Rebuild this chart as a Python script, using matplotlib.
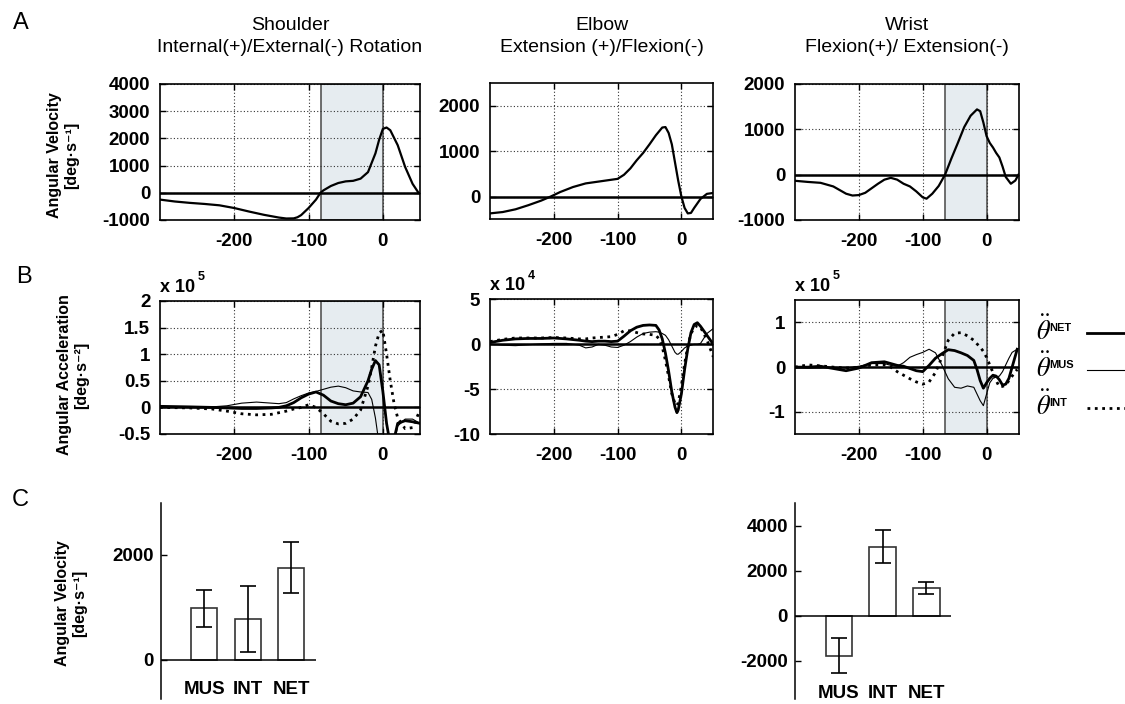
import numpy as np
import matplotlib.pyplot as plt
from matplotlib.lines import Line2D

plt.rcParams['font.family'] = ['Liberation Sans', 'DejaVu Sans']
plt.rcParams['axes.unicode_minus'] = False

W, H = 1125, 704

# ---- A: angular velocity (deg/s) ----
sh_vel_t = [-300, -280, -260, -240, -220, -200, -180, -160, -140, -130, -120, -115, -110, -100, -90,
            -84, -80, -70, -60, -50, -40, -30, -20, -10, -5, 0, 5, 10, 20, 30, 40, 48]
sh_vel = [-250, -320, -370, -410, -460, -560, -690, -810, -910, -945, -940, -900, -820, -560, -250,
          0, 90, 250, 360, 420, 440, 520, 760, 1450, 1950, 2350, 2400, 2300, 1750, 950, 330, 0]

el_vel_t = [-300, -280, -260, -240, -220, -205, -190, -170, -150, -130, -110, -100, -90, -80, -70, -60,
            -50, -40, -30, -25, -20, -15, -10, -5, 0, 5, 10, 15, 20, 30, 40, 50]
el_vel = [-370, -340, -280, -190, -90, 0, 100, 210, 290, 330, 370, 390, 480, 620, 800, 960,
          1150, 1350, 1520, 1530, 1400, 1150, 750, 350, 0, -250, -370, -360, -250, -50, 60, 80]

wr_vel_t = [-300, -280, -260, -240, -220, -210, -200, -190, -180, -170, -160, -150, -140, -130, -120,
            -110, -100, -94, -85, -75, -65, -55, -45, -35, -25, -15, -10, -5, 0, 5, 10, 15, 20, 25, 30,
            38, 45, 50]
wr_vel = [-135, -160, -180, -260, -420, -460, -450, -400, -300, -200, -110, -70, -110, -200, -260,
          -370, -500, -530, -420, -250, 0, 360, 700, 1050, 1300, 1440, 1400, 1150, 850, 700, 600, 480,
          380, 180, -50, -200, -130, 0]

# ---- B: angular acceleration (in units of the axis multiplier) ----
sh_acc_t = [-300, -260, -230, -210, -190, -170, -150, -140, -130, -120, -110, -100, -90, -80, -70,
            -60, -50, -40, -30, -20, -15, -10, -5, 0, 5, 10, 15, 20, 30, 40, 50]
sh_net = [0.02, 0.01, 0.0, -0.01, -0.02, -0.02, -0.01, 0.0, 0.03, 0.09, 0.18, 0.25, 0.29, 0.23, 0.12,
          0.07, 0.05, 0.08, 0.2, 0.5, 0.72, 0.88, 0.8, 0.3, -0.3, -0.7, -0.6, -0.3, -0.25, -0.27, -0.3]
sh_mus = [0.0, 0.0, 0.01, 0.03, 0.08, 0.1, 0.08, 0.07, 0.09, 0.16, 0.22, 0.27, 0.3, 0.34, 0.38,
          0.4, 0.37, 0.31, 0.29, 0.28, 0.15, -0.2, -0.7, -1.2, -1.3, -1.0, -0.7, -0.35, -0.22, -0.22, -0.3]
sh_int = [0.0, -0.01, -0.03, -0.07, -0.12, -0.14, -0.13, -0.1, -0.07, -0.03, 0.0, 0.05, 0.0, -0.12, -0.26,
          -0.31, -0.3, -0.22, -0.05, 0.4, 0.75, 1.15, 1.4, 1.45, 1.0, 0.5, 0.08, -0.2, -0.4, -0.38, -0.05]

el_acc_t = [-300, -280, -260, -240, -220, -200, -180, -160, -150, -140, -130, -120, -110, -100, -90,
            -80, -70, -60, -50, -40, -35, -30, -25, -20, -15, -10, -7, -5, 0, 5, 10, 15, 20, 25, 30,
            40, 50]
el_net = [0.2, 0.45, 0.6, 0.65, 0.65, 0.7, 0.6, 0.45, 0.35, 0.3, 0.35, 0.35, 0.3, 0.35, 0.9,
          1.5, 1.9, 2.1, 2.15, 2.1, 1.6, 0.6, -1.0, -3.0, -5.3, -7.0, -7.6, -7.3, -5.5, -2.8, -0.5,
          1.3, 2.2, 2.4, 2.0, 1.0, 0.0]
el_mus = [0.0, -0.1, -0.15, -0.05, 0.05, 0.1, 0.1, -0.1, -0.4, -0.3, 0.0, -0.1, -0.3, -0.35, -0.1,
          0.3, 0.8, 1.2, 1.35, 1.4, 1.35, 1.2, 1.0, 0.5, -0.2, -0.9, -1.1, -1.1, -0.8, -0.4, -0.2,
          -0.1, 0.0, 0.0, 0.1, 1.2, 1.75]
el_int = [0.3, 0.55, 0.7, 0.7, 0.7, 0.75, 0.7, 0.6, 0.6, 0.7, 0.75, 0.8, 0.85, 1.1, 1.5,
          1.5, 1.3, 1.15, 1.1, 1.0, 0.6, -0.3, -1.8, -3.6, -5.5, -6.6, -6.8, -6.5, -4.6, -2.2, -0.2,
          1.2, 1.8, 2.1, 1.9, 0.5, -1.4]

wr_acc_t = [-300, -280, -260, -240, -220, -200, -180, -160, -150, -140, -130, -120, -110, -100, -90,
            -80, -70, -60, -50, -40, -30, -20, -15, -10, -5, 0, 5, 10, 15, 20, 25, 30, 35, 40, 48]
wr_net = [0.0, 0.0, 0.02, -0.03, -0.08, -0.02, 0.1, 0.12, 0.08, 0.04, 0.02, -0.03, -0.08, -0.1, 0.04,
          0.2, 0.3, 0.39, 0.37, 0.32, 0.26, 0.15, -0.05, -0.3, -0.47, -0.35, -0.25, -0.18, -0.2, -0.28,
          -0.4, -0.38, -0.25, 0.0, 0.4]
wr_mus = [0.0, -0.02, -0.02, 0.0, -0.02, 0.02, 0.08, 0.08, 0.04, 0.02, 0.1, 0.22, 0.28, 0.33, 0.4,
          0.32, 0.05, -0.26, -0.45, -0.47, -0.42, -0.45, -0.6, -0.75, -0.86, -0.6, -0.35, -0.25, -0.22,
          -0.2, -0.1, 0.05, 0.2, 0.33, 0.4]
wr_int = [0.0, 0.05, 0.03, 0.0, -0.02, 0.0, 0.05, 0.05, 0.0, -0.1, -0.18, -0.26, -0.33, -0.38, -0.33,
          -0.12, 0.22, 0.6, 0.76, 0.77, 0.7, 0.6, 0.52, 0.45, 0.35, 0.22, 0.05, -0.12, -0.3, -0.44,
          -0.43, -0.4, -0.3, -0.2, -0.05]

# ---- C: peak contributions (deg/s) ----
bar_labels = ['MUS', 'INT', 'NET']
sh_bar = [980, 780, 1760]
sh_bar_err = [355, 630, 478]
wr_bar = [-1790, 3060, 1210]
wr_bar_err = [780, 740, 267]

fig = plt.figure(figsize=(W / 100, H / 100), dpi=100)


def add_ax(l, t, r, b):
    return fig.add_axes([l / W, 1 - b / H, (r - l) / W, (b - t) / H])


def fx(x):
    return x / W


def fy(y):
    return 1 - y / H


def trace_ax(ax, ylim, yticks, shade=None):
    ax.set_xlim(-300, 50)
    ax.set_ylim(*ylim)
    ax.set_xticks([-200, -100, 0])
    ax.set_yticks(yticks)
    if shade is not None:
        ax.axvspan(shade, 0, facecolor='#e6ecf0', edgecolor='#555555', lw=1.2, zorder=0)
    ax.grid(True, ls=(0, (1, 2)), color='#333333', lw=0.8)
    ax.set_axisbelow(True)
    ax.axhline(0, color='k', lw=1.8, zorder=3)
    ax.tick_params(direction='in', length=4, width=1, top=True, right=True, labelsize=13.5)
    ax.tick_params(axis='x', pad=9)
    ax.tick_params(axis='y', pad=7)
    for lab in ax.get_xticklabels() + ax.get_yticklabels():
        lab.set_fontweight('bold')
    for s in ax.spines.values():
        s.set_linewidth(1.2)


def multiplier(ax, power):
    t = ax.text(0, 1.04, 'x 10', transform=ax.transAxes, fontsize=13, fontweight='bold',
                ha='left', va='bottom')
    ax.annotate(str(power), xy=(1, 1), xycoords=t, xytext=(2, 1), textcoords='offset points',
                fontsize=9, fontweight='bold', ha='left', va='center')


# row A
axA = [add_ax(160, 84, 420, 220), add_ax(490, 83, 713.3, 219.3), add_ax(795, 84, 1018.5, 220)]
trace_ax(axA[0], (-1000, 4000), [-1000, 0, 1000, 2000, 3000, 4000], shade=-83)
axA[0].plot(sh_vel_t, sh_vel, color='k', lw=1.6, zorder=4)
trace_ax(axA[1], (-500, 2500), [0, 1000, 2000])
axA[1].plot(el_vel_t, el_vel, color='k', lw=1.6, zorder=4)
trace_ax(axA[2], (-1000, 2000), [-1000, 0, 1000, 2000], shade=-65)
axA[2].plot(wr_vel_t, wr_vel, color='k', lw=1.6, zorder=4)

# row B
axB = [add_ax(160, 301, 420, 434), add_ax(490, 299.3, 713.3, 434.3), add_ax(795, 300, 1018.5, 434.3)]
trace_ax(axB[0], (-0.5, 2), [-0.5, 0, 0.5, 1, 1.5, 2], shade=-83)
axB[0].set_yticklabels(['-0.5', '0', '0.5', '1', '1.5', '2'], fontweight='bold')
trace_ax(axB[1], (-10, 5), [-10, -5, 0, 5])
trace_ax(axB[2], (-1.5, 1.5), [-1, 0, 1], shade=-65)
for ax, t, net, mus, intr in [(axB[0], sh_acc_t, sh_net, sh_mus, sh_int),
                              (axB[1], el_acc_t, el_net, el_mus, el_int),
                              (axB[2], wr_acc_t, wr_net, wr_mus, wr_int)]:
    ax.plot(t, mus, color='k', lw=0.8, zorder=4)
    ax.plot(t, intr, color='k', lw=2.0, ls=':', zorder=4)
    ax.plot(t, net, color='k', lw=2.0, zorder=5)
multiplier(axB[0], 5)
multiplier(axB[1], 4)
multiplier(axB[2], 5)


# row C
def bar_ax(ax, vals, errs, ylim, yticks, label_y):
    x = np.arange(1, 4)
    ax.bar(x, vals, width=0.6, facecolor='white', edgecolor='#333333', lw=1.2, zorder=2)
    ax.errorbar(x, vals, yerr=errs, fmt='none', ecolor='k', elinewidth=1.2, capsize=5.5,
                capthick=1.2, zorder=3)
    ax.set_xlim(0, 3.56)
    ax.set_ylim(*ylim)
    ax.axhline(0, color='k', lw=1.1, zorder=4)
    for s in ['top', 'right', 'bottom']:
        ax.spines[s].set_visible(False)
    ax.spines['left'].set_linewidth(1.1)
    ax.set_xticks([])
    ax.set_yticks(yticks)
    ax.tick_params(axis='y', direction='in', length=4, width=1, labelsize=13.5, pad=5)
    for lab in ax.get_yticklabels():
        lab.set_fontweight('bold')
    for xi, name in zip(x, bar_labels):
        ax.text(xi, label_y, name, ha='center', va='center', fontsize=13.5, fontweight='bold')


axC0 = add_ax(161, 503, 315.5, 699)
bar_ax(axC0, sh_bar, sh_bar_err, (-745, 2990), [0, 2000], -570)
axC2 = add_ax(795, 503, 951, 699)
bar_ax(axC2, wr_bar, wr_bar_err, (-3710, 5000), [-2000, 0, 2000, 4000], -3450)

# titles
titles = [(290, 'Shoulder', 'Internal(+)/External(-) Rotation'),
          (602, 'Elbow', 'Extension (+)/Flexion(-)'),
          (907, 'Wrist', 'Flexion(+)/ Extension(-)')]
for xc, l1, l2 in titles:
    fig.text(fx(xc), fy(25), l1, ha='center', va='center', fontsize=14)
    fig.text(fx(xc), fy(47), l2, ha='center', va='center', fontsize=14)

# panel letters
for (x, y), letter in zip([(21, 23), (24, 277), (20, 500)], 'ABC'):
    fig.text(fx(x), fy(y), letter, ha='center', va='center', fontsize=17)

# y labels
for (x, y), l1, l2 in [((63, 155), 'Angular Velocity', '[deg·s⁻¹]'),
                       ((73, 375), 'Angular Acceleration', '[deg·s⁻²]'),
                       ((71, 603), 'Angular Velocity', '[deg·s⁻¹]')]:
    fig.text(fx(x), fy(y), l1 + '\n' + l2, rotation=90, ha='center', va='center',
             multialignment='center', fontsize=11.5, fontweight='bold', linespacing=1.25)

# legend for row B
for yb, name, lw, ls in [(333, 'NET', 2.0, '-'), (370, 'MUS', 0.8, '-'), (408, 'INT', 2.0, ':')]:
    fig.text(fx(1036), fy(yb + 7), r'$\ddot{\theta}$', fontsize=19, math_fontfamily='stix',
             ha='left', va='baseline')
    fig.text(fx(1049), fy(yb - 5), name, fontsize=8, fontweight='bold', ha='left', va='center')
    fig.add_artist(Line2D([fx(1087), fx(1125)], [fy(yb), fy(yb)], color='k', lw=lw, ls=ls,
                          transform=fig.transFigure))

fig.savefig('out.png', dpi=100)
